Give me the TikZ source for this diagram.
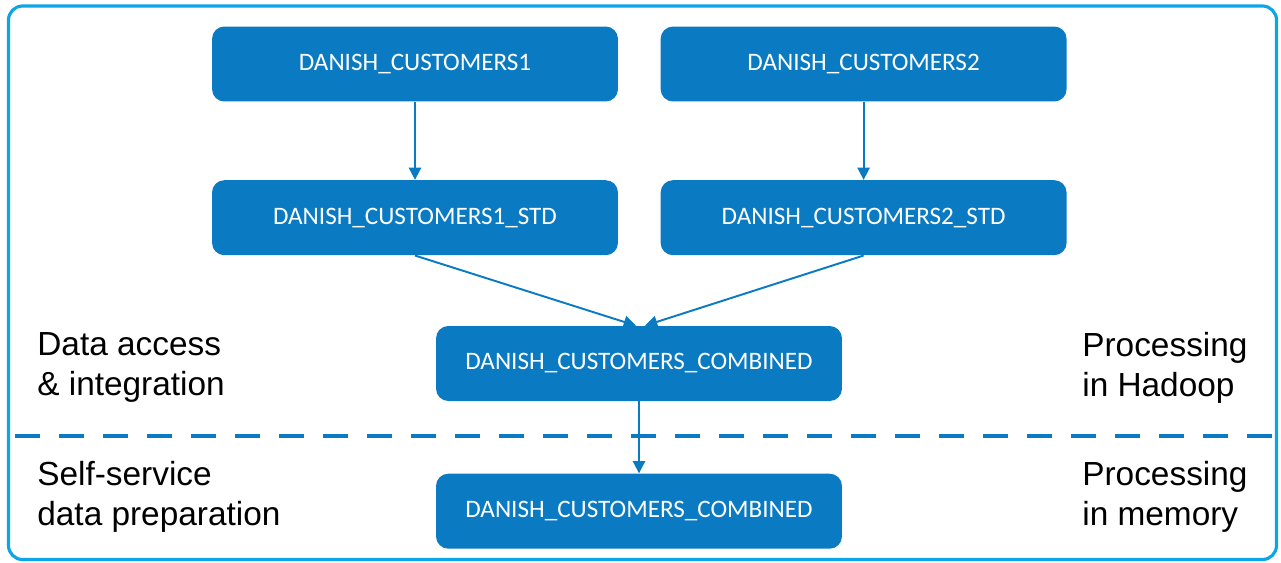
\documentclass[tikz,border=0pt]{standalone}
\usepackage{fontspec}
\setmainfont{Liberation Sans}
\newfontfamily\boxfont{Carlito}
\usetikzlibrary{arrows.meta,positioning}
\definecolor{tblue}{RGB}{10,123,194}
\definecolor{frameblue}{RGB}{12,166,232}
\tikzset{
	block/.style={
		rectangle,
		rounded corners=7pt,
		fill=tblue,
		text=white,
		font=\boxfont\fontsize{14.3pt}{16pt}\selectfont,
		minimum width=8.12cm,
		minimum height=1.5cm,
		inner sep=0pt
	},
	side/.style={
		align=left,
		inner sep=0pt,
		font=\fontsize{19pt}{22.8pt}\selectfont
	},
	line/.style={-{Triangle[width=7pt,length=7pt]},draw=tblue,line width=1.1pt}
}

\begin{document}
\begin{tikzpicture}[x=0.02cm,y=-0.02cm]
		\useasboundingbox (0,0) rectangle (1281,562);
		\draw[frameblue,line width=1.8pt,rounded corners=8pt] (8.5,6) rectangle (1276.5,559.5);
		\draw[tblue,line width=2.8pt,dash pattern=on 0.5cm off 0.38cm] (15,436) -- (1277,436);

		\node[block] (b1) at (415,64) {DANISH\_CUSTOMERS1};
		\node[block,right=0.84cm of b1] (b2) {DANISH\_CUSTOMERS2};
		\node[block,below=1.56cm of b1] (b3) {DANISH\_CUSTOMERS1\_STD};
		\node[block,below=1.56cm of b2] (b4) {DANISH\_CUSTOMERS2\_STD};
		\node[block] (c1) at (639,363.5) {DANISH\_CUSTOMERS\_COMBINED};
		\node[block,below=1.44cm of c1] (c2) {DANISH\_CUSTOMERS\_COMBINED};

		\node[side,anchor=north west] (access) at (37,332) {Data access\\\& integration};
		\node[side,anchor=north west] (selfserv) at (37,461) {Self-service\\data preparation};
		\node[side,anchor=north west] (hadoop) at (1082,332) {Processing\\in Hadoop};
		\node[side,anchor=north west] (memory) at (1082,461) {Processing\\in memory};

		\draw[line] (b1) -- (b3);
		\draw[line] (b2) -- (b4);
		\draw[line] (b3.south) -- ([xshift=-0.06cm]c1.north);
		\draw[line] (b4.south) -- ([xshift=0.12cm]c1.north);
		\draw[line] (c1) -- (c2);
	\end{tikzpicture}
\end{document}
